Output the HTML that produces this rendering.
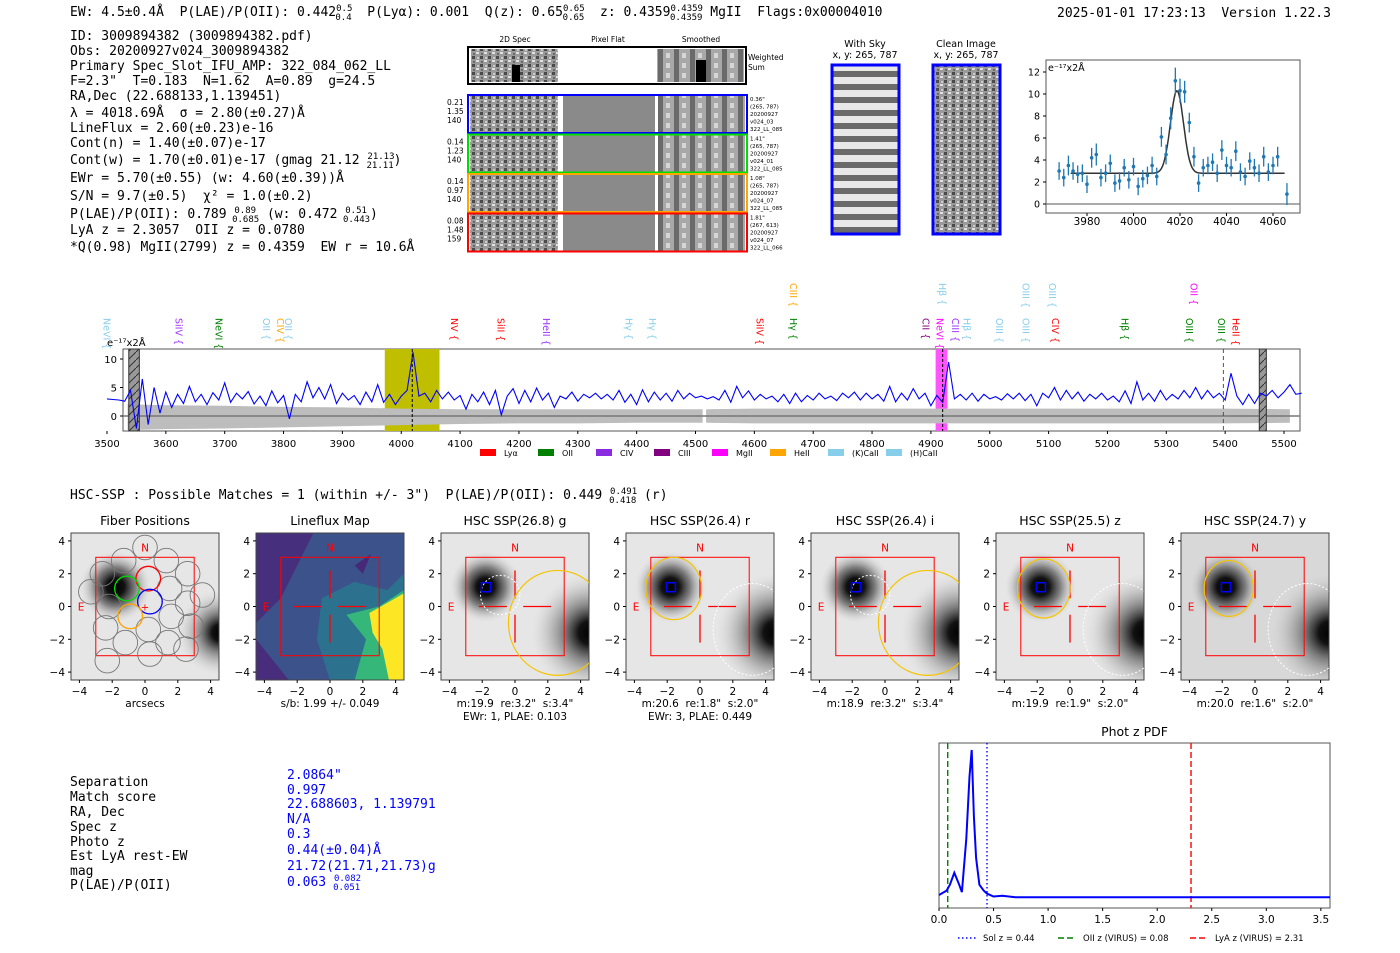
<!DOCTYPE html>
<html><head><meta charset="utf-8"><style>
html,body{margin:0;padding:0;background:#fff;}
svg{display:block;font-family:"DejaVu Sans","Liberation Sans",sans-serif;}
svg text{white-space:pre;}
.mono{font-family:"DejaVu Sans Mono","Liberation Mono",monospace;font-size:13px;}
.tk{font-size:10.5px;}
</style></head><body>
<svg id="fig" width="1400" height="953" viewBox="0 0 1400 953" xmlns="http://www.w3.org/2000/svg" xml:space="preserve">
<defs>
<pattern id="skyStripes" width="10" height="13" patternUnits="userSpaceOnUse"><rect width="10" height="13" fill="#e8e8e8"/><rect y="6" width="10" height="6" fill="#6a6a6a"/></pattern>
<pattern id="noise" width="8" height="8" patternUnits="userSpaceOnUse"><rect width="8" height="8" fill="#9a9a9a"/><rect width="3" height="3" fill="#4a4a4a"/><rect x="4" y="4" width="3" height="2" fill="#e0e0e0"/><rect x="5" y="1" width="2" height="2" fill="#c8c8c8"/><rect x="1" y="5" width="2" height="2" fill="#6a6a6a"/></pattern>
<pattern id="smooth" width="16" height="10" patternUnits="userSpaceOnUse"><rect width="16" height="10" fill="#a8a8a8"/><rect x="2" width="5" height="10" fill="#6a6a6a"/><rect x="10" y="3" width="4" height="5" fill="#d6d6d6"/></pattern>
<pattern id="hatch" width="8" height="8" patternUnits="userSpaceOnUse"><rect width="8" height="8" fill="#999"/><path d="M0 8 L8 0" stroke="#333" stroke-width="1"/></pattern>
<radialGradient id="srcBlob"><stop offset="0" stop-color="#000"/><stop offset="0.25" stop-color="#111"/><stop offset="0.55" stop-color="#666" stop-opacity="0.8"/><stop offset="1" stop-color="#ddd" stop-opacity="0"/></radialGradient>
<radialGradient id="galBlob"><stop offset="0" stop-color="#000"/><stop offset="0.2" stop-color="#111"/><stop offset="0.45" stop-color="#666" stop-opacity="0.8"/><stop offset="1" stop-color="#ccc" stop-opacity="0"/></radialGradient>
</defs>

<!-- header -->
<text class="mono" x="70" y="16">EW: 4.5±0.4Å  P(LAE)/P(OII): 0.442<tspan font-size="9" dy="-5">0.5</tspan><tspan font-size="9" dx="-17" dy="9">0.4</tspan><tspan dy="-4">  P(Lyα): 0.001  Q(z): 0.65</tspan><tspan font-size="9" dy="-5">0.65</tspan><tspan font-size="9" dx="-22" dy="9">0.65</tspan><tspan dy="-4">  z: 0.4359</tspan><tspan font-size="9" dy="-5">0.4359</tspan><tspan font-size="9" dx="-33" dy="9">0.4359</tspan><tspan dy="-4"> MgII  Flags:0x00004010</tspan></text>
<text class="mono" x="1057" y="17">2025-01-01 17:23:13  Version 1.22.3</text>

<g class="mono">
<text x="70" y="40">ID: 3009894382 (3009894382.pdf)</text>
<text x="70" y="55">Obs: 20200927v024_3009894382</text>
<text x="70" y="70">Primary Spec_Slot_IFU_AMP: 322_084_062_LL</text>
<text x="70" y="85">F=2.3"  T=0.183  N=1.62  A=0.89  g=24.5</text>
<text x="70" y="100">RA,Dec (22.688133,1.139451)</text>
<text x="70" y="117">λ = 4018.69Å  σ = 2.80(±0.27)Å</text>
<text x="70" y="132">LineFlux = 2.60(±0.23)e-16</text>
<text x="70" y="147">Cont(n) = 1.40(±0.07)e-17</text>
<text x="70" y="164">Cont(w) = 1.70(±0.01)e-17 (gmag 21.12 <tspan font-size="9" dy="-5">21.13</tspan><tspan font-size="9" dx="-28" dy="9">21.11</tspan><tspan dy="-4">)</tspan></text>
<text x="70" y="182">EWr = 5.70(±0.55) (w: 4.60(±0.39))Å</text>
<text x="70" y="200">S/N = 9.7(±0.5)  χ² = 1.0(±0.2)</text>
<text x="70" y="218">P(LAE)/P(OII): 0.789 <tspan font-size="9" dy="-5">0.89</tspan><tspan font-size="9" dx="-24" dy="9">0.685</tspan><tspan dy="-4"> (w: 0.472 </tspan><tspan font-size="9" dy="-5">0.51</tspan><tspan font-size="9" dx="-24" dy="9">0.443</tspan><tspan dy="-4">)</tspan></text>
<text x="70" y="234">LyA z = 2.3057  OII z = 0.0780</text>
<text x="70" y="251">*Q(0.98) MgII(2799) z = 0.4359  EW r = 10.6Å</text>
</g>

<!-- 2D spectra -->
<g font-size="7.5">
<text x="515" y="42" text-anchor="middle">2D Spec</text>
<text x="608" y="42" text-anchor="middle">Pixel Flat</text>
<text x="701" y="42" text-anchor="middle">Smoothed</text>
<rect x="468" y="47" width="278" height="37" fill="#fff" stroke="#000" stroke-width="2"/>
<rect x="471" y="49" width="87" height="33" fill="url(#noise)"/>
<rect x="657" y="49" width="87" height="33" fill="url(#smooth)"/>
<rect x="512" y="65" width="8" height="17" fill="#000"/><rect x="696" y="60" width="10" height="22" fill="#000"/>
<text x="748" y="60">Weighted</text><text x="748" y="70">Sum</text>
</g>
<g id="specRows"></g>

<!-- With Sky / Clean -->
<g font-size="9.5">
<text x="865" y="47" text-anchor="middle">With Sky</text><text x="865" y="58" text-anchor="middle">x, y: 265, 787</text>
<text x="966" y="47" text-anchor="middle">Clean Image</text><text x="966" y="58" text-anchor="middle">x, y: 265, 787</text>
<rect x="832" y="65" width="67" height="169" fill="url(#skyStripes)" stroke="#00f" stroke-width="3"/>
<rect x="933" y="65" width="67" height="169" fill="url(#noise)" stroke="#00f" stroke-width="3"/>
</g>

<g id="gaussPlot"></g>
<g id="specPlot"></g>

<text class="mono" x="70" y="499">HSC-SSP : Possible Matches = 1 (within +/- 3")  P(LAE)/P(OII): 0.449 <tspan font-size="9" dy="-5">0.491</tspan><tspan font-size="9" dx="-28" dy="9">0.418</tspan><tspan dy="-4"> (r)</tspan></text>
<g id="panels"></g>

<g class="mono">
<text x="70" y="786">Separation</text><text x="70" y="801">Match score</text><text x="70" y="816">RA, Dec</text><text x="70" y="831">Spec z</text><text x="70" y="846">Photo z</text><text x="70" y="860">Est LyA rest-EW</text><text x="70" y="875">mag</text><text x="70" y="889">P(LAE)/P(OII)</text>
<g fill="#00f">
<text x="287" y="779">2.0864"</text><text x="287" y="794">0.997</text><text x="287" y="808">22.688603, 1.139791</text><text x="287" y="823">N/A</text><text x="287" y="838">0.3</text><text x="287" y="854">0.44(±0.04)Å</text><text x="287" y="870">21.72(21.71,21.73)g</text><text x="287" y="886">0.063 <tspan font-size="9" dy="-5">0.082</tspan><tspan font-size="9" dx="-28" dy="9">0.051</tspan></text>
</g></g>
<g id="pdfPlot"></g>
</svg>
<script>
// ---------- data ----------
const specFlux = [3.0,2.9,2.8,2.6,4.5,-2.2,6.5,-1.5,5.0,0.5,4.2,1.5,3.8,2.2,5.2,2.5,3.8,2.0,4.1,2.8,5.8,2.4,4.0,3.0,4.3,2.1,3.5,1.8,4.4,2.3,3.6,-0.5,3.8,2.5,6.0,3.2,5.0,3.0,5.5,2.2,4.0,2.8,3.6,2.0,4.2,2.5,5.5,2.4,3.8,2.0,3.5,4.5,11.2,3.5,4.0,2.5,4.5,3.0,4.2,2.8,3.6,1.2,3.8,2.5,4.2,2.0,4.5,0.2,3.5,4.8,2.2,4.5,2.5,4.9,2.8,4.0,1.5,3.5,3.0,4.2,2.6,3.8,3.2,4.0,3.0,3.8,2.8,4.5,2.4,3.8,2.0,4.6,2.5,4.2,2.8,4.0,2.6,4.5,3.0,4.0,3.2,3.5,3.0,3.4,2.8,4.5,2.4,5.2,3.2,4.4,2.8,3.8,3.0,3.5,2.5,3.8,2.2,4.0,2.5,3.6,2.8,4.0,3.0,3.5,2.7,4.0,3.2,4.2,2.8,4.0,3.0,3.8,2.6,5.2,2.5,4.0,2.8,4.8,3.0,4.0,1.8,3.6,2.4,9.5,3.0,3.8,2.8,4.0,2.6,3.8,3.0,3.4,2.8,3.9,3.0,4.0,2.7,3.8,1.8,4.0,3.2,5.0,2.8,4.5,3.0,4.2,2.6,3.8,3.0,4.0,2.8,3.5,2.5,4.4,2.2,6.0,2.8,4.0,2.6,4.5,2.8,3.8,3.0,4.5,3.2,5.0,3.0,4.5,3.2,4.0,2.8,7.5,3.5,2.0,3.8,2.2,4.0,3.5,4.5,3.2,4.2,5.5,3.8,4.0];
const specStart = 3500, specStep = 10;
const errWl = [3535,3560,3600,3700,3800,3900,4000,4100,4200,4300,4400,4512,4518,4600,4800,5000,5200,5400,5510];
const errHi = [2.2,2.0,1.9,1.8,1.6,1.5,1.3,1.2,1.2,1.2,1.2,1.2,1.2,1.3,1.3,1.3,1.3,1.3,1.2];
const errLo = [-2.4,-2.4,-2.3,-2.2,-2.0,-1.8,-1.6,-1.4,-1.3,-1.3,-1.2,-1.2,-1.2,-1.3,-1.3,-1.3,-1.3,-1.3,-1.2];
const specTicks = [3500,3600,3700,3800,3900,4000,4100,4200,4300,4400,4500,4600,4700,4800,4900,5000,5100,5200,5300,5400,5500];
const specYTicks = [0,5,10];
const lineNames = ["NeVI","SiIV","NeVI","OII","CIV","OII","NV","SiII","HeII","Hγ","Hγ","SiIV","Hγ","CIII","CII","NeVI","Hβ","CIII","Hβ","OIII","OIII","OIII","OIII","CIV","Hβ","OII","OIII","OIII","HeII"];
const lineWl = [3498,3621,3689,3769,3793,3807,4089,4168,4245,4385,4425,4608,4665,4665,4890,4914,4918,4940,4960,5015,5060,5060,5105,5110,5228,5345,5338,5392,5417];
const lineRow = [1,1,1,1,0.85,0.85,1,1,1,1,1,1,1,0,1,1,0,1,1,1,1,0,0,1,1,0,1,1,1];
const lineColor = ["#87ceeb","#9b30ff","#008000","#87ceeb","#ffa500","#87ceeb","#ff0000","#ff0000","#9b30ff","#87ceeb","#87ceeb","#ff0000","#008000","#ffa500","#800080","#ff00ff","#87ceeb","#9b30ff","#87ceeb","#87ceeb","#87ceeb","#87ceeb","#87ceeb","#ff0000","#008000","#ff00ff","#008000","#008000","#ff0000"];
const legendNames = ["Lyα","OII","CIV","CIII","MgII","HeII","(K)CaII","(H)CaII"];
const legendColors = ["#ff0000","#008000","#8a2be2","#800080","#ff00ff","#ffa500","#87ceeb","#87ceeb"];

const gaussWl = [3968,3970,3972,3974,3976,3978,3980,3982,3984,3986,3988,3990,3992,3994,3996,3998,4000,4002,4004,4006,4008,4010,4012,4014,4016,4018,4020,4022,4024,4026,4028,4030,4032,4034,4036,4038,4040,4042,4044,4046,4048,4050,4052,4054,4056,4058,4060,4062,4066];
const gaussFlux = [3.0,2.4,3.5,3.0,2.7,2.8,1.8,4.2,4.5,2.4,2.8,3.7,1.9,2.1,3.3,2.2,3.4,1.6,2.3,2.6,3.5,2.5,6.1,4.5,7.8,11.2,10.3,10.2,7.4,4.3,1.9,3.3,3.5,3.8,2.8,4.9,3.5,3.3,4.8,2.9,2.5,3.9,3.3,2.8,4.3,2.9,3.5,4.3,0.9];
const gaussErr = [0.8,0.8,0.9,0.8,0.8,0.8,0.8,0.9,1.0,0.8,0.8,0.8,0.8,0.8,0.8,0.8,0.8,0.8,0.8,0.8,0.8,0.8,0.9,0.9,1.0,1.2,1.1,1.0,0.9,0.9,0.8,0.8,0.8,0.8,0.8,0.9,0.8,0.8,0.9,0.8,0.8,0.8,0.8,0.8,0.9,0.8,0.8,0.9,1.0];
const gaussFit = {center:4018.7, sigma:2.8, amp:7.5, cont:2.8};
const gaussXTicks = [3980,4000,4020,4040,4060];
const gaussYTicks = [0,2,4,6,8,10,12];

const pdfZ = [0,0.07,0.10,0.14,0.18,0.21,0.25,0.28,0.30,0.32,0.34,0.37,0.41,0.44,0.50,0.58,0.70,1.0,2.0,3.6];
const pdfP = [0.02,0.05,0.09,0.17,0.10,0.04,0.40,0.82,1.0,0.55,0.27,0.09,0.05,0.03,0.01,0.015,0.005,0.005,0.005,0.005];
const pdfTicks = [0,0.5,1.0,1.5,2.0,2.5,3.0,3.5];
const pdfMarkers = [0.44,0.08,2.31];

const panelTitles = ["Fiber Positions","Lineflux Map","HSC SSP(26.8) g","HSC SSP(26.4) r","HSC SSP(26.4) i","HSC SSP(25.5) z","HSC SSP(24.7) y"];
const panelCap1 = ["arcsecs","s/b: 1.99 +/- 0.049","m:19.9  re:3.2\"  s:3.4\"","m:20.6  re:1.8\"  s:2.0\"","m:18.9  re:3.2\"  s:3.4\"","m:19.9  re:1.9\"  s:2.0\"","m:20.0  re:1.6\"  s:2.0\""];
const panelCap2 = ["","","EWr: 1, PLAE: 0.103","EWr: 3, PLAE: 0.449","","",""];

const NS = "http://www.w3.org/2000/svg";
function mk(tag, attrs, parent, txt){const e=document.createElementNS(NS,tag);for(const k in attrs)e.setAttribute(k,attrs[k]);if(txt!==undefined)e.textContent=txt;parent.appendChild(e);return e;}

// ---------- spec rows ----------
(function(){
 const g=document.getElementById('specRows');
 const cols=["#0000ff","#00dd00","#ffa500","#ff0000"];
 const l1=[["0.21","1.35","140"],["0.14","1.23","140"],["0.14","0.97","140"],["0.08","1.48","159"]];
 const r1=[["0.36\"","(265, 787)","20200927","v024_03","322_LL_085"],["1.41\"","(265, 787)","20200927","v024_01","322_LL_085"],["1.08\"","(265, 787)","20200927","v024_07","322_LL_085"],["1.81\"","(267, 613)","20200927","v024_07","322_LL_066"]];
 for(let i=0;i<4;i++){
  const y=95+i*39.5;
  const row=mk('g',{},g);
  
  
  mk('rect',{x:470,y:y,width:88,height:38,fill:'url(#noise)'},row);
  mk('rect',{x:563,y:y,width:92,height:38,fill:'#8a8a8a'},row);
  mk('rect',{x:658,y:y,width:87,height:38,fill:'url(#smooth)'},row);
  mk('rect',{x:468,y:y,width:279,height:38,fill:'none',stroke:cols[i],'stroke-width':2},row);
  l1[i].forEach((t,j)=>mk('text',{x:447,y:y+10+j*9,'font-size':7.5},row,t));
  r1[i].forEach((t,j)=>mk('text',{x:750,y:y+6+j*7.5,'font-size':5.5},row,t));
 }
})();

// ---------- gaussian plot ----------
(function(){
 const g=document.getElementById('gaussPlot');
 const L=1046,R=1300,T=60,B=213;
 const X=w=>1087+(w-3980)*2.325, Y=v=>204-v*11;
 mk('rect',{x:L,y:T,width:R-L,height:B-T,fill:'#fff',stroke:'#555'},g);
 mk('line',{x1:L,x2:R,y1:Y(0),y2:Y(0),stroke:'#777','stroke-width':1.2},g);
 gaussXTicks.forEach(t=>{mk('line',{x1:X(t),x2:X(t),y1:B,y2:B+3,stroke:'#000'},g);mk('text',{x:X(t),y:B+12,'text-anchor':'middle',class:'tk','font-size':9.5},g,t);});
 gaussYTicks.forEach(t=>{mk('line',{x1:L-3,x2:L,y1:Y(t),y2:Y(t),stroke:'#000'},g);mk('text',{x:L-6,y:Y(t)+3.5,'text-anchor':'end','font-size':9.5},g,t);});
 mk('text',{x:L+2,y:T+11,'font-size':9.5},g,'e⁻¹⁷x2Å');
 let d='';for(let w=3973;w<=4065;w+=0.5){const v=gaussFit.cont+gaussFit.amp*Math.exp(-0.5*Math.pow((w-gaussFit.center)/gaussFit.sigma,2));d+=(d?'L':'M')+X(w).toFixed(1)+' '+Y(v).toFixed(1);}
 const fit=mk('path',{d:d,fill:'none',stroke:'#333','stroke-width':1.5},g);
 
 
 gaussWl.forEach((w,i)=>{
  mk('line',{x1:X(w),x2:X(w),y1:Y(gaussFlux[i]-gaussErr[i]),y2:Y(gaussFlux[i]+gaussErr[i]),stroke:'#1f77b4','stroke-width':1.3},g);
  const p=mk('circle',{cx:X(w),cy:Y(gaussFlux[i]),r:1.8,fill:'#1f77b4'},g);
  
  
 });
})();

// ---------- main spectrum ----------
(function(){
 const g=document.getElementById('specPlot');
 const L=123,R=1300,T=349,B=431;
 const X=w=>107+(w-3500)*0.5885, Y=v=>416-v*5.7;
 const ax=mk('rect',{x:L,y:T,width:R-L,height:B-T,fill:'#fff',stroke:'#555'},g);
 
 
 mk('rect',{x:X(3972),y:T,width:X(4065)-X(3972),height:B-T,fill:'#bfbf00'},g);
 mk('rect',{x:X(4908),y:T,width:X(4928)-X(4908),height:B-T,fill:'#ff55ff'},g);
 const seg=[[0,11],[12,18]];
 seg.forEach(s=>{let d='';for(let i=s[0];i<=s[1];i++)d+=(d?'L':'M')+X(errWl[i]).toFixed(1)+' '+Y(errHi[i]).toFixed(1);for(let i=s[1];i>=s[0];i--)d+='L'+X(errWl[i]).toFixed(1)+' '+Y(errLo[i]).toFixed(1);d+='Z';
  const e=mk('path',{d:d,fill:'#bdbdbd'},g);});
 mk('line',{x1:L,x2:R,y1:Y(0),y2:Y(0),stroke:'#777','stroke-width':1.5},g);
 mk('rect',{x:X(3537),y:T,width:X(3555)-X(3537),height:B-T,fill:'url(#hatch)',stroke:'#333'},g);
 mk('rect',{x:X(5458),y:T,width:X(5470)-X(5458),height:B-T,fill:'url(#hatch)',stroke:'#333'},g);
 let d='';specFlux.forEach((v,i)=>{d+=(i?'L':'M')+X(specStart+i*specStep).toFixed(1)+' '+Y(v).toFixed(1);});
 const sp=mk('path',{d:d,fill:'none',stroke:'#0000ff','stroke-width':1.1},g);
 
 
 mk('line',{x1:X(4018.7),x2:X(4018.7),y1:T,y2:B,stroke:'#000','stroke-dasharray':'3,2'},g);
 mk('line',{x1:X(4920),x2:X(4920),y1:T,y2:B,stroke:'#000','stroke-dasharray':'3,2'},g);
 mk('line',{x1:X(5397),x2:X(5397),y1:T,y2:B,stroke:'#555','stroke-dasharray':'4,3'},g);
 specTicks.forEach(t=>{mk('line',{x1:X(t),x2:X(t),y1:B,y2:B+3,stroke:'#000'},g);mk('text',{x:X(t),y:B+16,'text-anchor':'middle','font-size':10},g,t);});
 specYTicks.forEach(t=>{mk('line',{x1:L-3,x2:L,y1:Y(t),y2:Y(t),stroke:'#000'},g);mk('text',{x:L-28,y:Y(t)+4,'text-anchor':'end','font-size':10,dx:22},g,t);});
 mk('text',{x:107,y:346,'font-size':10},g,'e⁻¹⁷x2Å');
 lineNames.forEach((n,i)=>{
  const x=X(lineWl[i]);const y0=lineRow[i]===0?283:318;
  const t=mk('text',{x:x,y:y0,transform:`rotate(90 ${x} ${y0})`,'font-size':9.5,fill:lineColor[i],'dominant-baseline':'middle'},g,n+' {');
  
  
 });
 legendNames.forEach((n,i)=>{
  const x=480+i*58;
  const lg=mk('g',{},g);
  
  
  mk('rect',{x:x,y:449,width:16,height:7,fill:legendColors[i]},lg);
  mk('text',{x:x+24,y:456,'font-size':8},lg,n);
 });
})();

// ---------- image panels ----------
(function(){
 const g=document.getElementById('panels');
 const lefts=[71,256,441,626,811,996,1181];
 const W=148,T=533,H=147;
 lefts.forEach((L,k)=>{
  const u=16.4, cx=L+W/2, cy=T+H/2;
  const P=(a,b)=>[cx+a*u, cy-b*u];
  const poly=arr=>arr.map(p=>P(p[0],p[1]).join(',')).join(' ');
  const pg=mk('g',{},g);
  
  
  mk('text',{x:cx,y:T-8,'text-anchor':'middle','font-size':12.5},pg,panelTitles[k]);
  const clipId='clip'+k;
  const cp=mk('clipPath',{id:clipId},pg);mk('rect',{x:L,y:T,width:W,height:H},cp);
  const im=mk('g',{'clip-path':`url(#${clipId})`},pg);
  if(k===1){
   mk('rect',{x:L,y:T,width:W,height:H,fill:'#3b528b'},im);
   mk('polygon',{points:poly([[-4.5,4.5],[-1,4.5],[-2,2.5],[-3,0.5],[-4.5,-1]]),fill:'#46307e'},im);
   mk('polygon',{points:poly([[-4.5,-2],[-2.5,-4.5],[-4.5,-4.5]]),fill:'#472d7b'},im);
   mk('polygon',{points:poly([[1.5,2.5],[2.5,3.2],[2,2]]),fill:'#482878'},im);
   mk('polygon',{points:poly([[-0.5,0.5],[1.5,1.5],[3.5,1],[4.5,2],[4.5,-4.5],[0,-4.5],[-0.8,-2]]),fill:'#2c728e'},im);
   mk('polygon',{points:poly([[1,-0.5],[3,0],[4.5,1],[4.5,-4.5],[1.5,-4.5],[2.2,-2]]),fill:'#35b779'},im);
   mk('polygon',{points:poly([[2.4,-0.4],[4.5,0.8],[4.5,-4.5],[3.6,-4.5],[3.2,-2.6],[2.6,-1.6]]),fill:'#fde725'},im);
  } else {
   mk('rect',{x:L,y:T,width:W,height:H,fill:k===6?'#d8d8d8':'#e6e6e6'},im);
   const [gx,gy]=P(4.6,-1.6);
   mk('ellipse',{cx:gx,cy:gy,rx:u*(k===0?2.6:3.6),ry:u*(k===0?2.6:3.6),fill:'url(#galBlob)'},im);
   const [sx,sy]=P(-1.8,1.2);
   mk('circle',{cx:sx,cy:sy,r:u*2.2,fill:'url(#srcBlob)'},im);
  }
  mk('rect',{x:L,y:T,width:W,height:H,fill:'none',stroke:'#444'},pg);
  [-4,-2,0,2,4].forEach(t=>{const [x]=P(t,0);const [,y]=P(0,t);
   const lab=t===0?'0':(t<0?'−'+(-t):String(t));
   mk('line',{x1:x,x2:x,y1:T+H,y2:T+H+3,stroke:'#000'},pg);mk('text',{x:x,y:T+H+15,'text-anchor':'middle','font-size':10.5},pg,lab);
   mk('line',{x1:L-3,x2:L,y1:y,y2:y,stroke:'#000'},pg);mk('text',{x:L-6,y:y+4,'text-anchor':'end','font-size':10.5},pg,lab);});
  mk('text',{x:cx,y:T+H+27,'text-anchor':'middle','font-size':10.5},pg,panelCap1[k]);
  if(panelCap2[k])mk('text',{x:cx,y:T+H+40,'text-anchor':'middle','font-size':10.5},pg,panelCap2[k]);
  const [qx,qy]=P(-3,3);
  mk('rect',{x:qx,y:qy,width:6*u,height:6*u,fill:'none',stroke:'#f00','stroke-width':1},pg);
  const [nx,ny]=P(0,3.6);mk('text',{x:nx,y:ny+4,'text-anchor':'middle','font-size':10.5,fill:'#f00'},pg,'N');
  const [ex,ey]=P(-3.9,0);mk('text',{x:ex,y:ey+4,'text-anchor':'middle','font-size':10.5,fill:'#f00'},pg,'E');
  if(k>0){
   [[-2.2,0,-0.5,0],[0.5,0,2.2,0],[0,0.5,0,2.2],[0,-0.5,0,-2.2]].forEach(s=>{const a=P(s[0],s[1]),b=P(s[2],s[3]);mk('line',{x1:a[0],y1:a[1],x2:b[0],y2:b[1],stroke:'#f00','stroke-width':1.3},pg);});
  }
  const cl=mk('g',{'clip-path':`url(#${clipId})`},pg);
  if(k===0){
   const hex=[[0,3.6],[-1.3,2.8],[1.3,2.8],[-2.6,2.0],[0.2,1.7],[2.6,2.0],[-3.3,0.9],[-1.1,1.1],[1.5,1.1],[3.5,0.7],[-2.2,0],[0.3,0.3],[2.6,0.2],[-0.9,-0.6],[1.6,-0.6],[-2.4,-1.3],[0.2,-1.4],[2.8,-1.2],[-1.2,-2.2],[1.4,-2.2],[-2.3,-3.3],[0.3,-2.9],[2.5,-2.6]];
   hex.forEach(h=>{const [x,y]=P(h[0],h[1]);mk('circle',{cx:x,cy:y,r:u*0.75,fill:'none',stroke:'#777','stroke-width':0.9},cl);});
   [[0.2,1.7,'#f00'],[-1.1,1.1,'#0d0'],[0.3,0.3,'#00f'],[-0.9,-0.6,'#ffa500']].forEach(h=>{const [x,y]=P(h[0],h[1]);const c=mk('circle',{cx:x,cy:y,r:u*0.75,fill:'none',stroke:h[2],'stroke-width':1.3},cl);});
   const [px,py]=P(0,0);mk('text',{x:px,y:py+4,'text-anchor':'middle','font-size':10,fill:'#f00'},pg,'+');
  }
  if(k>=2){
   const [bx,by]=P(-2.05,1.45);mk('rect',{x:bx,y:by,width:0.55*u,height:0.55*u,fill:'none',stroke:'#00f','stroke-width':1.5},pg);
   const big=(k===2||k===4);
   if(big){const [ex2,ey2]=P(2.6,-1.0);mk('ellipse',{cx:ex2,cy:ey2,rx:3.0*u,ry:3.2*u,fill:'none',stroke:'#f5c400','stroke-width':1.2},cl);
     const [wx,wy]=P(-0.9,0.7);mk('circle',{cx:wx,cy:wy,r:1.2*u,fill:'none',stroke:'#fff','stroke-dasharray':'2,2'},cl);}
   else {const rr=k===3?[1.7,1.9]:(k===5?[1.6,1.8]:[1.5,1.7]);const [ex2,ey2]=P(-1.6,1.1);mk('ellipse',{cx:ex2,cy:ey2,rx:rr[0]*u,ry:rr[1]*u,fill:'none',stroke:'#f5c400','stroke-width':1.2},cl);
     const [wx,wy]=P(3.2,-1.4);mk('ellipse',{cx:wx,cy:wy,rx:2.4*u,ry:2.8*u,fill:'none',stroke:'#fff','stroke-dasharray':'2,2'},cl);}
  }
 });
})();

// ---------- phot z pdf ----------
(function(){
 const g=document.getElementById('pdfPlot');
 const L=939,R=1330,T=743,B=908;
 const X=z=>939+z*109.1, Y=p=>898-p*148;
 const ax=mk('rect',{x:L,y:T,width:R-L,height:B-T,fill:'#fff',stroke:'#555'},g);
 
 
 mk('text',{x:(L+R)/2,y:736,'text-anchor':'middle','font-size':12.5},g,'Phot z PDF');
 pdfTicks.forEach(t=>{mk('line',{x1:X(t),x2:X(t),y1:B,y2:B+3,stroke:'#000'},g);mk('text',{x:X(t),y:B+15,'text-anchor':'middle','font-size':10.5},g,t.toFixed(1));});
 const styles=[['#0000ff','1.5,2.5'],['#008000','6,3'],['#ff0000','6,3']];
 pdfMarkers.forEach((z,i)=>{const l=mk('line',{x1:X(z),x2:X(z),y1:T,y2:B,stroke:styles[i][0],'stroke-width':1.4,'stroke-dasharray':styles[i][1]},g);});
 let d='';pdfZ.forEach((z,i)=>{d+=(i?'L':'M')+Math.min(X(z),R).toFixed(1)+' '+Y(pdfP[i]).toFixed(1);});
 const p=mk('path',{d:d,fill:'none',stroke:'#0000ff','stroke-width':2},g);
 
 
 const labs=["Sol z = 0.44","OII z (VIRUS) = 0.08","LyA z (VIRUS) = 2.31"];
 const lx=[958,1058,1190];
 labs.forEach((s,i)=>{const lg=mk('g',{},g);
  mk('line',{x1:lx[i],x2:lx[i]+18,y1:938,y2:938,stroke:styles[i][0],'stroke-width':1.4,'stroke-dasharray':styles[i][1]},lg);
  mk('text',{x:lx[i]+25,y:941,'font-size':8.5},lg,s);});
})();
</script>
</body></html>
